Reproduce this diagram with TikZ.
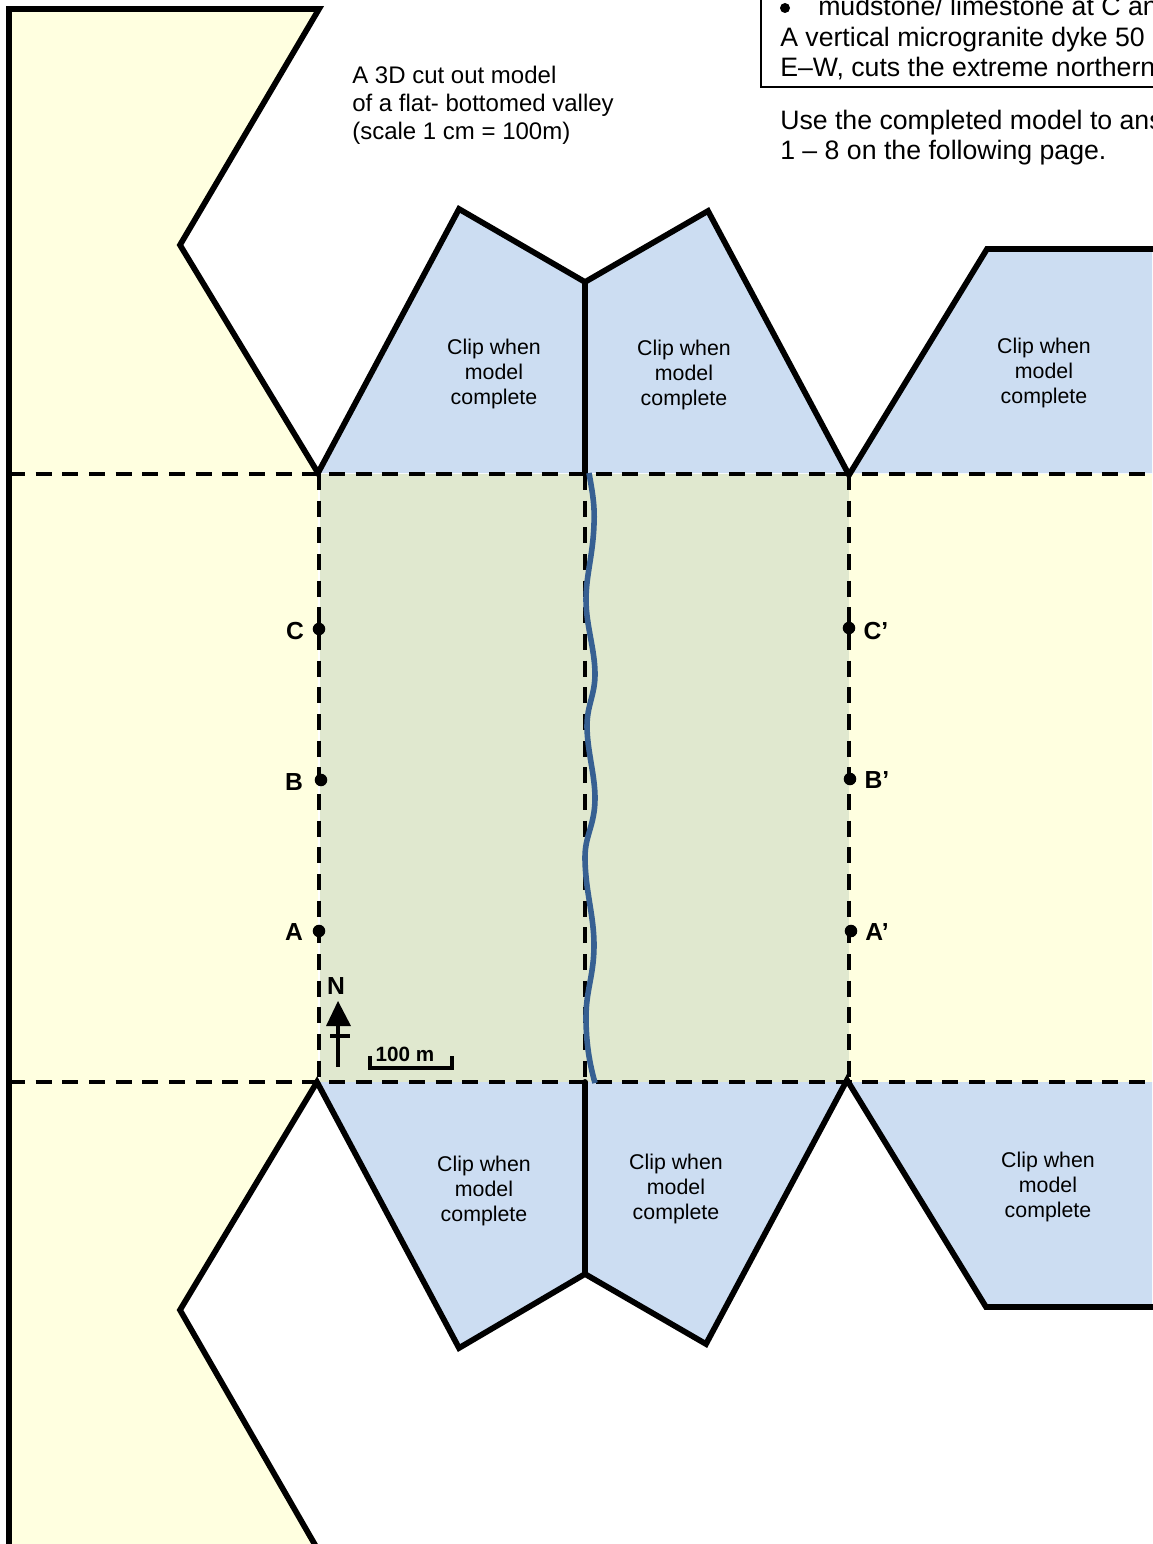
\documentclass[tikz,border=0pt]{standalone}
\usepackage{fontspec}
\setmainfont{Liberation Sans}
\definecolor{paneyellow}{HTML}{FFFFE0}
\definecolor{tabblue}{HTML}{CCDDF2}
\definecolor{valleygreen}{HTML}{E0E8CF}
\definecolor{riverblue}{HTML}{376092}
\tikzset{
  x=0.75pt,y=-0.75pt,
  cutline/.style={line width=4.3pt,line join=miter,line cap=round},
  foldline/.style={line width=3pt,dash pattern=on 12pt off 8pt},
  cliplabel/.style={font=\fontsize{16}{18.4}\selectfont,align=center,inner sep=0pt},
  bodytext/.style={anchor=north west,align=left,inner sep=0pt,font=\fontsize{20}{22.5}\selectfont},
  smalltext/.style={anchor=north west,align=left,inner sep=0pt,font=\fontsize{18}{21}\selectfont},
  pointlabel/.style={font=\fontsize{18.5}{20}\selectfont\bfseries,inner sep=0pt},
  pointdot/.style={circle,fill=black,inner sep=0pt,minimum size=9.4pt}
}
\begin{document}
\begin{tikzpicture}
\useasboundingbox (0,0) rectangle (1152,1544);
\fill[white] (0,0) rectangle (1152,1544);
% fills
\fill[paneyellow] (9,9)--(319,9)--(180,245)--(318,473)--(318,1082)--(180,1310)--(318,1544)--(9,1544)--cycle;
\fill[tabblue] (318,473)--(459,209)--(585,282)--(708,211)--(849,473)--cycle;
\fill[tabblue] (849,473)--(987,249)--(1152,249)--(1152,473)--cycle;
\fill[tabblue] (318,1082)--(459,1348)--(585,1274)--(706,1344)--(847,1082)--cycle;
\fill[tabblue] (849,1082)--(986,1307)--(1152,1307)--(1152,1082)--cycle;
\fill[valleygreen] (320,474) rectangle (849,1082);
\fill[paneyellow] (849,474) rectangle (1152,1082);
\fill[white] (318,474) rectangle (320,1082);
% fold lines
\draw[foldline] (9,474)--(1152,474);
\draw[foldline] (9,1082)--(1152,1082);
\draw[foldline] (319,474)--(319,1082);
\draw[foldline] (585,474)--(585,1082);
\draw[foldline] (849,474)--(849,1082);
% cut lines
\draw[cutline] (9,1550)--(9,9)--(319,9)--(180,245)--(318,473)--(459,209)--(585,282)--(708,211)--(849,475)--(987,249)--(1156,249);
\draw[cutline] (585,282)--(585,473);
\draw[cutline] (318,1550)--(180,1310)--(317,1082)--(459,1348)--(585,1274)--(706,1344)--(847,1080)--(986,1307)--(1156,1307);
\draw[cutline] (585,1082)--(585,1274);
% river
\draw[riverblue,line width=4.2pt] (589,473) .. controls (592,490) and (595,505) .. (594,524)
 .. controls (593,555) and (586,575) .. (586,600)
 .. controls (586,625) and (595,650) .. (595,674)
 .. controls (595,695) and (587,705) .. (587,726)
 .. controls (587,750) and (595,775) .. (595,798)
 .. controls (595,825) and (585,835) .. (585,857)
 .. controls (585,890) and (594,915) .. (594,945)
 .. controls (594,975) and (586,990) .. (586,1017)
 .. controls (586,1045) and (590,1065) .. (595,1083);
% points
\node[pointdot] (c) at (319,629) {};
\node[pointdot] (b) at (321,780) {};
\node[pointdot] (a) at (319,931) {};
\node[pointdot] (cp) at (849,628) {};
\node[pointdot] (bp) at (850,779) {};
\node[pointdot] (ap) at (851,931) {};
\node[pointlabel] (lc) at (295,631) {C};
\node[pointlabel] (lb) at (294,782) {B};
\node[pointlabel] (la) at (294,932) {A};
\node[pointlabel] (lcp) at (876,631) {C’};
\node[pointlabel] (lbp) at (877,780) {B’};
\node[pointlabel] (lap) at (877,932) {A’};
% north arrow
\node[pointlabel] (north) at (336,986) {N};
\fill (338,1001)--(351,1026)--(326,1026)--cycle;
\draw[line width=2.6pt] (338,1024)--(338,1067);
\draw[line width=2.6pt] (330,1036)--(350,1036);
% scale bar
\draw[line width=2.3pt] (370,1056)--(370,1068)--(452,1068)--(452,1056);
\node[font=\fontsize{15.5}{18}\selectfont\bfseries,inner sep=0pt] (scale) at (405,1054) {100 m};
% clip labels
\node[cliplabel] (t1) at (494,374) {Clip when\\model\\complete};
\node[cliplabel] (t2) at (684,375) {Clip when\\model\\complete};
\node[cliplabel] (t3) at (1044,373) {Clip when\\model\\complete};
\node[cliplabel] (t4) at (484,1191) {Clip when\\model\\complete};
\node[cliplabel] (t5) at (676,1189) {Clip when\\model\\complete};
\node[cliplabel] (t6) at (1048,1187) {Clip when\\model\\complete};
% title
\node[smalltext] (title) at (352,66) {A 3D cut out model\\of a flat- bottomed valley\\(scale 1 cm = 100m)};
% top right box
\draw[line width=1.6pt] (761,-5)--(761,87)--(1160,87);
\fill (785,8) circle [radius=5];
\node[bodytext,anchor=base west] (b1) at (818,16) {mudstone/ limestone at C an};
\node[bodytext,anchor=base west] (b2) at (780,47) {A vertical microgranite dyke 50};
\node[bodytext,anchor=base west] (b3) at (780,77) {E–W, cuts the extreme northern};
\node[bodytext,anchor=base west] (u1) at (780,130) {Use the completed model to ans};
\node[bodytext,anchor=base west] (u2) at (780,160) {1 – 8 on the following page.};
\end{tikzpicture}
\end{document}
